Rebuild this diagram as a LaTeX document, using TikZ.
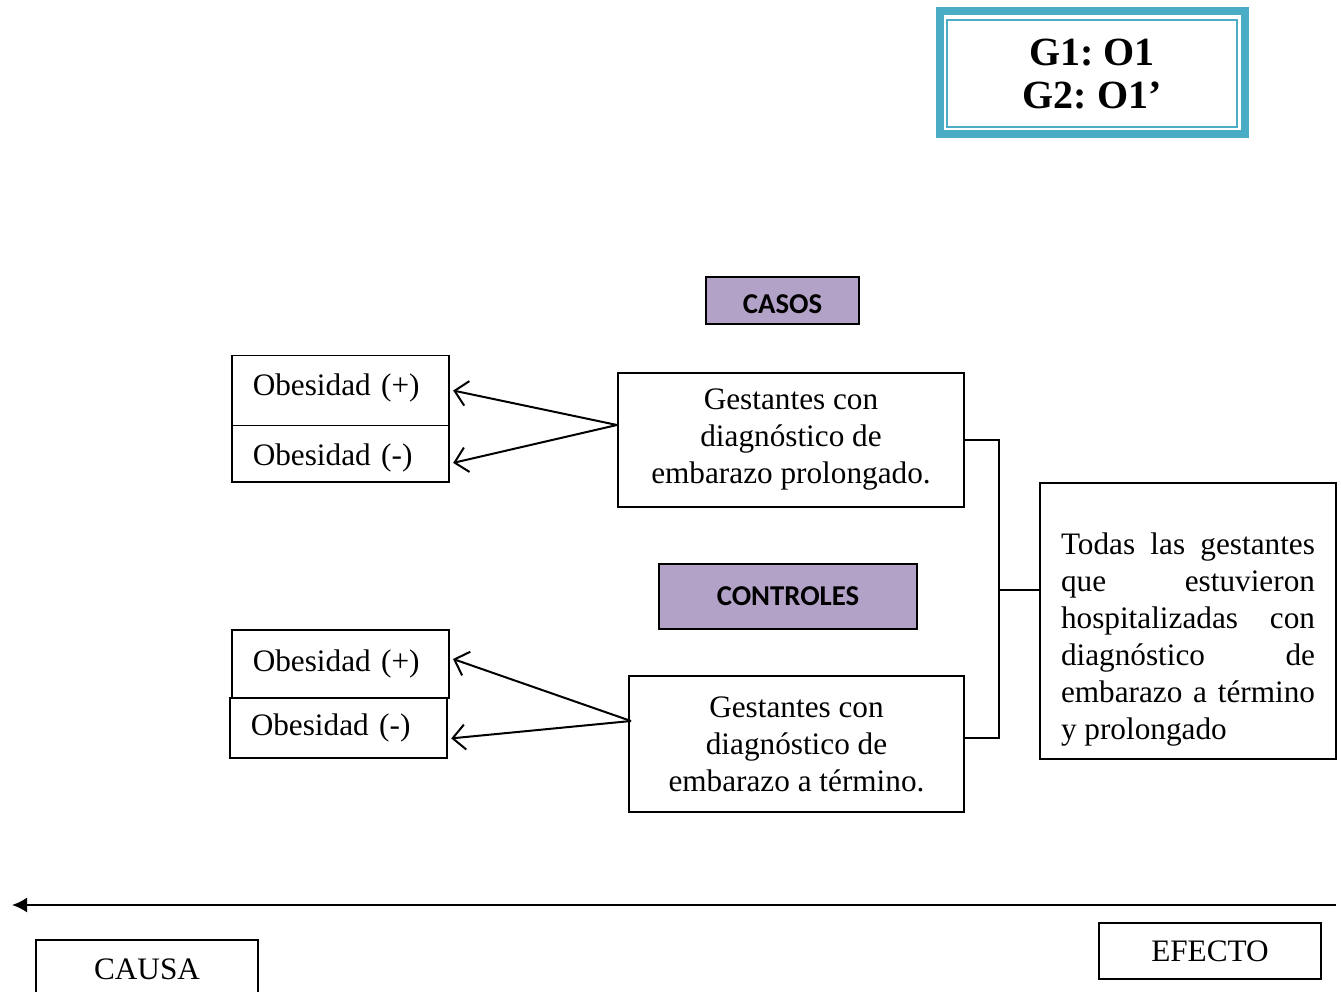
\documentclass[tikz,border=0pt]{standalone}
\usepackage{fontspec}
\setmainfont{Liberation Serif}
\newfontfamily\calibri{Carlito}
\usetikzlibrary{arrows.meta}
\definecolor{marco}{HTML}{4BACC6}
\definecolor{lila}{HTML}{B2A2C7}
\frenchspacing

\begin{document}
\begin{tikzpicture}[x=0.4pt, y=-0.4pt,
    every node/.style={font=\fontsize{12.5}{14.8}\selectfont},
    caja/.style={draw, line width=0.6pt, inner sep=0pt},
    obes/.style={caja, anchor=north west, minimum width=86.8pt, text width=70pt, inner xsep=8.4pt, align=left},
    grupo/.style={caja, fill=lila, font=\fontsize{11.5}{13}\selectfont\calibri\bfseries},
    flecha/.style={-{Straight Barb[length=5pt,width=10pt]}, line width=0.8pt, shorten >=1.5pt}]

    % Page size
    \useasboundingbox (0,0) rectangle (1341,992);
    \clip (0,0) rectangle (1341,992);

    % Design box
    \node[align=center, font=\fontsize{16}{17.2}\selectfont\bfseries] (grupos) at (1092,74) {G1: O1\\G2: O1’};
    \draw[marco, line width=3.2pt] (939.5,11) rectangle (1244.5,134);
    \draw[marco, line width=0.8pt] (947,20) rectangle (1237,127);

    % Group labels
    \node[grupo, minimum width=61.2pt, minimum height=18.8pt, text height=10.6pt, text depth=0pt] (casos) at (782.5,300.5) {CASOS};
    \node[grupo, minimum width=103.2pt, minimum height=26pt] (controles) at (788,596.5) {CONTROLES};

    % Obesity boxes
    \node[obes, minimum height=28pt, text height=8.5pt, text depth=5.1pt] (obp1) at (231,355) {Obesidad (+)};
    \node[obes, minimum height=22.4pt, text height=12.5pt, text depth=2.7pt] (obm1) at (231,425) {Obesidad (-)};
    \node[obes, minimum height=27.2pt] (obp2) at (231,629) {Obesidad (+)};
    \node[obes, minimum height=24pt] (obm2) at (229,697) {Obesidad (-)};

    % Pregnant women boxes
    \node[caja, minimum width=138.4pt, minimum height=53.6pt, align=center] (gpro) at (791,440)
        {Gestantes con\\diagnóstico de\\embarazo prolongado.};
    \node[caja, minimum width=134pt, minimum height=54.4pt, align=center] (gter) at (796.5,744)
        {Gestantes con\\diagnóstico de\\embarazo a término.};

    % Population box
    \node[caja, minimum width=118.4pt, minimum height=110.4pt] (todas) at (1188,621)
        {\parbox{101.6pt}{\vspace*{15pt}%
        \makebox[\linewidth][s]{Todas las gestantes}\\
        \makebox[\linewidth][s]{que estuvieron}\\
        \makebox[\linewidth][s]{hospitalizadas con}\\
        \makebox[\linewidth][s]{diagnóstico de}\\
        \makebox[\linewidth][s]{embarazo a término}\\
        y prolongado}};

    % Arrows to obesity boxes
    \coordinate (s1) at (617,425);
    \coordinate (s2) at (631,721);
    \draw[flecha] (s1) -- ([yshift=0.4pt]obp1.east);
    \draw[flecha] (s1) -- ([yshift=-4pt]obm1.east);
    \draw[flecha] (s2) -- ([yshift=2.4pt]obp2.east);
    \draw[flecha] (s2) -- ([yshift=-4.4pt]obm2.east);

    % Bracket joining both groups
    \draw[line width=0.6pt] (gpro.east) -- ++(34,0) |- ([yshift=2.4pt]gter.east);
    \draw[line width=0.6pt] (998,590) -- (todas.west |- 0,590);

    % Time axis
    \coordinate (fin) at (1336,905);
    \coordinate (ini) at (12,905);
    \draw[-{Latex[length=6pt,width=6pt]}, line width=0.8pt] (fin) -- (ini);

    % Cause and effect
    \node[caja, minimum width=88.8pt, minimum height=23.2pt] (causa) at (147,969) {CAUSA};
    \node[caja, minimum width=88.8pt, minimum height=22.4pt] (efecto) at (1210,951) {EFECTO};

\end{tikzpicture}
\end{document}
